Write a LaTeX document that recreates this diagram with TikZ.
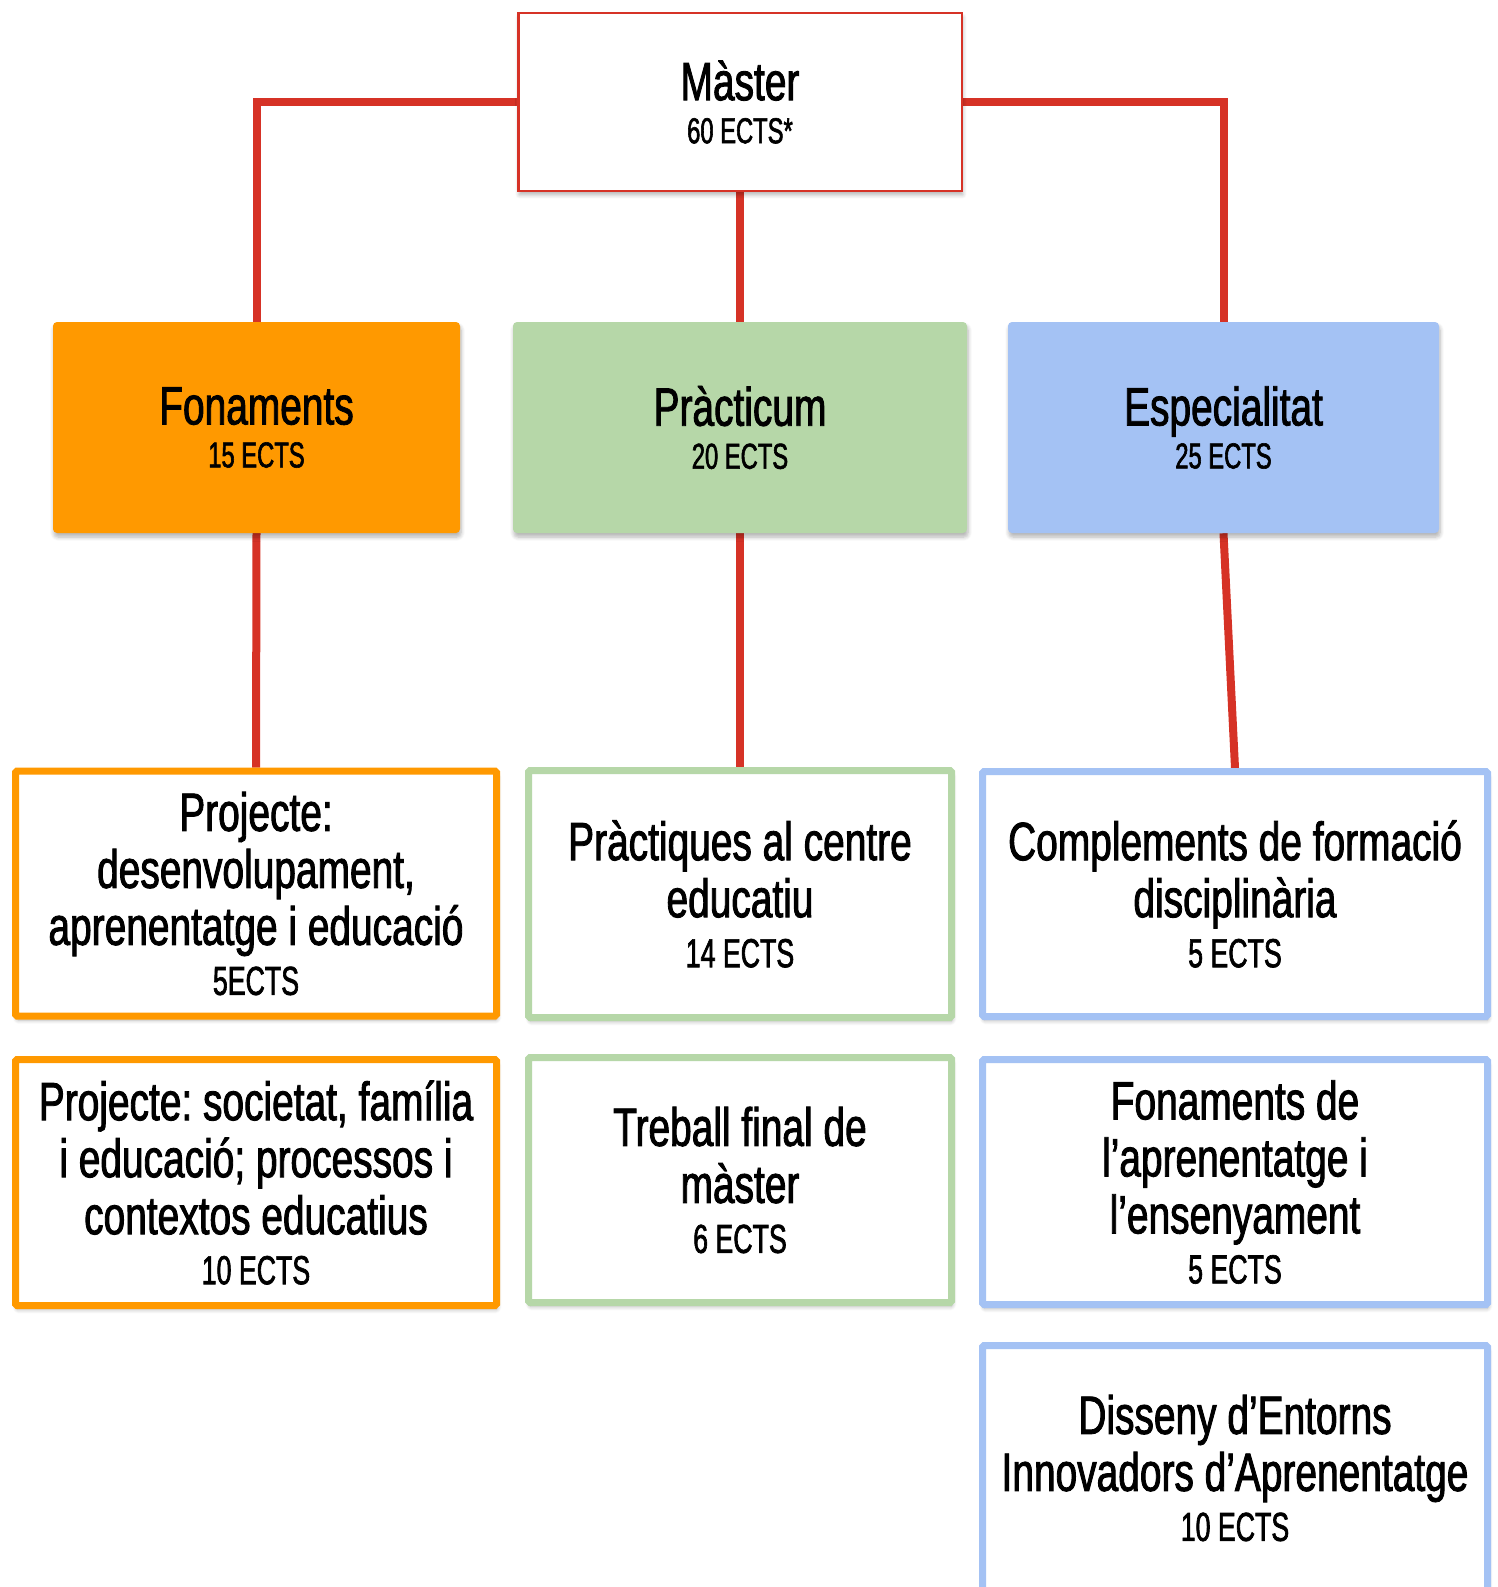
\documentclass[tikz,border=0pt]{standalone}
\usepackage{fontspec}
\setmainfont{Liberation Sans}[FakeStretch=0.72, FakeBold=1.6]
\newfontfamily\ectsfont{Liberation Sans}[FakeStretch=0.66, FakeBold=1.6]
\usetikzlibrary{shadows.blur,backgrounds}

\definecolor{linkred}{RGB}{214,50,38}
\definecolor{fonorange}{HTML}{FF9900}
\definecolor{pragreen}{HTML}{B6D7A8}
\definecolor{espblue}{HTML}{A4C2F4}

% text sizes: main lines and the smaller credit lines
\newcommand\mainsz{\frenchspacing\fontsize{54}{57}\selectfont\lineskiplimit=-100pt\relax}
\newcommand\ectstop[1]{\\[-14pt]{\ectsfont\fontsize{36}{43}\selectfont #1}}
\newcommand\ectsub[1]{\\[-7pt]{\ectsfont\fontsize{40.5}{50}\selectfont #1}}

\tikzset{
  every node/.style={align=center, inner sep=0pt, text=black},
  softshadow/.style={blur shadow={shadow xshift=1pt, shadow yshift=-4pt,
      shadow blur radius=4pt, shadow blur steps=6, shadow opacity=30}},
  headbox/.style={rectangle, draw=linkred, line width=2.5pt, fill=white,
      softshadow, font=\mainsz},
  tierbox/.style={rectangle, rounded corners=4pt, fill=#1, softshadow,
      font=\mainsz, minimum height=211pt},
  coursebox/.style={rectangle, rounded corners=1.5pt, draw=#1, line width=7pt,
      fill=white, softshadow, font=\mainsz},
  link/.style={draw=linkred, line width=8pt}
}

\begin{document}
\begin{tikzpicture}[x=1pt, y=-1pt]
\useasboundingbox (0,0) rectangle (1497,1587);

% top of the structure
\node[headbox, minimum width=443.5pt, minimum height=177.5pt] (master) at (740,102)
  {Màster\ectstop{60 ECTS*}};

% the three blocks
\node[tierbox=fonorange, minimum width=407pt] (fon) at (256.5,427.5)
  {Fonaments\ectstop{15 ECTS}};
\node[tierbox=pragreen, minimum width=454pt] (pra) at (740,427.5)
  {Pràcticum\ectstop{20 ECTS}};
\node[tierbox=espblue, minimum width=431pt] (esp) at (1223.5,427.5)
  {Especialitat\ectstop{25 ECTS}};

% subjects of each block
\node[coursebox=fonorange, minimum width=481pt, minimum height=245pt] (o1) at (256,893.5)
  {Projecte:\\desenvolupament,\\aprenentatge i educació\ectsub{5ECTS}};
\node[coursebox=fonorange, minimum width=481pt, minimum height=246pt] (o2) at (256,1182.5)
  {Projecte: societat, família\\i educació; processos i\\contextos educatius\ectsub{10 ECTS}};

\node[coursebox=pragreen, minimum width=423pt, minimum height=247pt] (g1) at (740,894)
  {Pràctiques al centre\\educatiu\ectsub{14 ECTS}};
\node[coursebox=pragreen, minimum width=423pt, minimum height=245pt] (g2) at (740,1180)
  {Treball final de\\màster\ectsub{6 ECTS}};

\node[coursebox=espblue, minimum width=505pt, minimum height=245pt] (b1) at (1235,894)
  {Complements de formació\\disciplinària\ectsub{5 ECTS}};
\node[coursebox=espblue, minimum width=505pt, minimum height=245pt] (b2) at (1235,1182)
  {Fonaments de\\l’aprenentatge i\\l’ensenyament\ectsub{5 ECTS}};
\node[coursebox=espblue, minimum width=505pt, minimum height=245pt] (b3) at (1235,1468)
  {Disseny d’Entorns\\Innovadors d’Aprenentatge\ectsub{10 ECTS}};

% connectors, kept behind the boxes
\begin{scope}[on background layer]
  \draw[link] (master.west) -| (fon.north);
  \draw[link] (master.east) -| (esp.north);
  \draw[link] (master.south) -- (pra.north);
  \draw[link] (fon.south) -- (o1.north);
  \draw[link] (pra.south) -- (g1.north);
  \draw[link] (esp.south) -- (b1.north);
\end{scope}
\end{tikzpicture}
\end{document}
